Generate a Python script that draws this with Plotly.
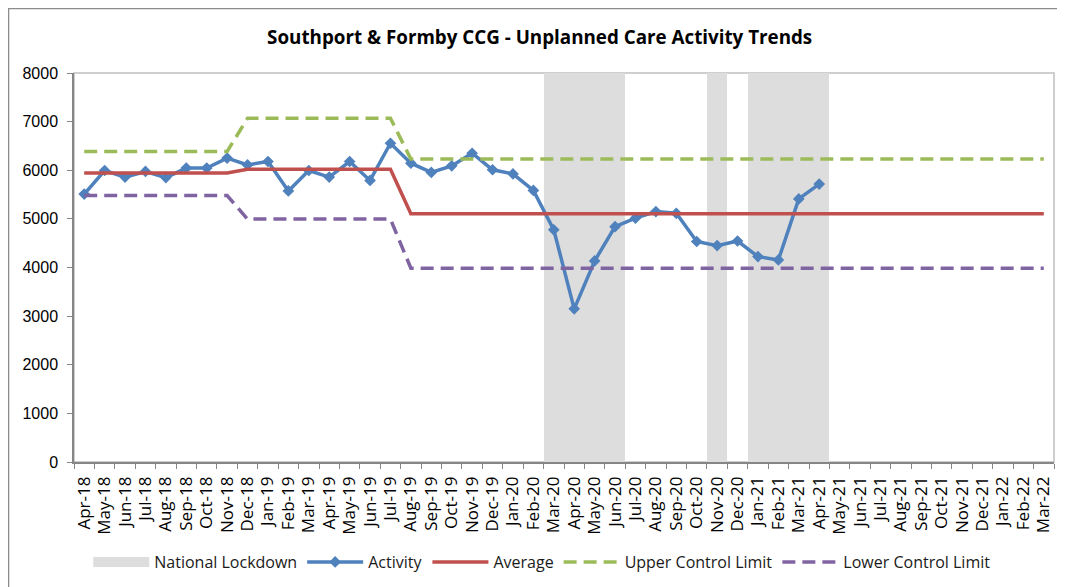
import plotly.graph_objects as go

# =============================================================================
# Data
# =============================================================================

months = [
    "Apr-18", "May-18", "Jun-18", "Jul-18", "Aug-18", "Sep-18", "Oct-18", "Nov-18",
    "Dec-18", "Jan-19", "Feb-19", "Mar-19", "Apr-19", "May-19", "Jun-19", "Jul-19",
    "Aug-19", "Sep-19", "Oct-19", "Nov-19", "Dec-19", "Jan-20", "Feb-20", "Mar-20",
    "Apr-20", "May-20", "Jun-20", "Jul-20", "Aug-20", "Sep-20", "Oct-20", "Nov-20",
    "Dec-20", "Jan-21", "Feb-21", "Mar-21", "Apr-21", "May-21", "Jun-21", "Jul-21",
    "Aug-21", "Sep-21", "Oct-21", "Nov-21", "Dec-21", "Jan-22", "Feb-22", "Mar-22",
]

activity = [
    5510, 5995, 5860, 5975, 5850, 6045, 6045, 6250,
    6110, 6180, 5575, 5995, 5860, 6180, 5790, 6555,
    6145, 5955, 6090, 6350, 6010, 5925, 5585, 4775,
    3150, 4135, 4840, 5015, 5150, 5115, 4535, 4450,
    4545, 4225, 4155, 5410, 5715,
] + [None] * 11

average = [5945] * 8 + [6020] * 8 + [5105] * 32
upper_limit = [6385] * 8 + [7070] * 8 + [6230] * 32
lower_limit = [5480] * 8 + [4995] * 8 + [3985] * 32

lockdown_months = [
    "Mar-20", "Apr-20", "May-20", "Jun-20", "Nov-20",
    "Jan-21", "Feb-21", "Mar-21", "Apr-21",
]
lockdown = [8000 if m in lockdown_months else None for m in months]

# =============================================================================
# Chart
# =============================================================================

fig = go.Figure()

fig.add_trace(go.Bar(
    x=months, y=lockdown, name="National Lockdown", showlegend=False,
    marker=dict(color="#dddddd", line=dict(width=0)),
))

# legend entry for the shaded bands (wide grey swatch like the original)
fig.add_trace(go.Scatter(
    x=[None], y=[None], name="National Lockdown", mode="lines",
    line=dict(color="#dddddd", width=10),
))

fig.add_trace(go.Scatter(
    x=months, y=activity, name="Activity", mode="lines+markers",
    line=dict(color="#4f81bd", width=3.5),
    marker=dict(symbol="diamond", size=9, color="#4f81bd"),
))

fig.add_trace(go.Scatter(
    x=months, y=average, name="Average", mode="lines",
    line=dict(color="#c0504d", width=3.5),
))

fig.add_trace(go.Scatter(
    x=months, y=upper_limit, name="Upper Control Limit", mode="lines",
    line=dict(color="#9bbb59", width=3.5, dash="13px,7px"),
))

fig.add_trace(go.Scatter(
    x=months, y=lower_limit, name="Lower Control Limit", mode="lines",
    line=dict(color="#8064a2", width=3.5, dash="13px,7px"),
))

# outer chart border and plot-area box
fig.add_shape(
    type="rect", xref="paper", yref="paper",
    x0=-0.0668, x1=1.015, y0=-0.33, y1=1.1658,
    line=dict(color="#8c8c8c", width=1.5), layer="below",
)
fig.add_shape(
    type="rect", xref="paper", yref="paper",
    x0=0, x1=1, y0=0, y1=1,
    line=dict(color="#c0c0c0", width=1.5), layer="below",
)

fig.update_layout(
    width=1057,
    height=579,
    margin=dict(l=66, r=11, t=65, b=125),
    paper_bgcolor="white",
    plot_bgcolor="white",
    bargap=0,
    title=dict(
        text="<b>Southport & Formby CCG - Unplanned Care Activity Trends</b>",
        x=0.503, xanchor="center", y=0.95, yanchor="middle",
        font=dict(family="Open Sans", size=18.8, color="black"),
    ),
    font=dict(family="Open Sans", color="black"),
    showlegend=True,
    legend=dict(
        orientation="h",
        xref="container", x=0.505, xanchor="center",
        yref="container", y=0.0432, yanchor="middle",
        font=dict(family="Open Sans", size=16, color="#1a1a1a"),
        itemwidth=56,
        traceorder="normal",
    ),
    xaxis=dict(
        type="category",
        range=[-0.5, 47.5],
        tickangle=-90,
        ticks="outside", tickson="boundaries", ticklen=5,
        tickcolor="#868686",
        ticklabelstandoff=6,
        showline=True, linecolor="#868686", linewidth=1.5,
        showgrid=False,
        automargin=False,
        tickfont=dict(family="Open Sans", size=17, color="black"),
    ),
    yaxis=dict(
        range=[0, 8000],
        tickvals=[0, 1000, 2000, 3000, 4000, 5000, 6000, 7000, 8000],
        ticks="outside", ticklen=5, tickcolor="#868686",
        ticklabelstandoff=6,
        showline=True, linecolor="#868686", linewidth=1.5,
        showgrid=False, zeroline=False,
        automargin=False,
        tickfont=dict(family="Liberation Sans", size=16, color="black"),
    ),
)

fig.write_html("out.html")
